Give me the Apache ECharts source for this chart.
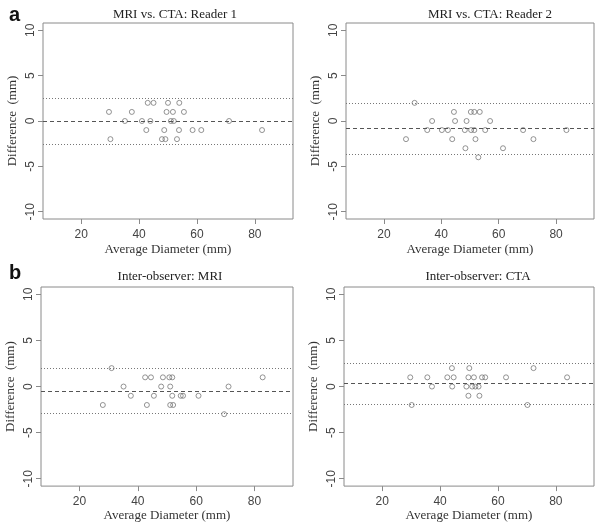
<!DOCTYPE html>
<html><head><meta charset="utf-8">
<script src="https://cdn.jsdelivr.net/npm/echarts@6/dist/echarts.min.js"></script>
<style>html,body{margin:0;padding:0;background:#fff}#c{width:600px;height:523px}</style>
</head><body><div id="c"></div>
<script>
// Panel titles
const titles = ['MRI vs. CTA: Reader 1', 'MRI vs. CTA: Reader 2', 'Inter-observer: MRI', 'Inter-observer: CTA'];
const xTicks = [20, 40, 60, 80];
const yTicks = [-10, -5, 0, 5, 10];

// a1: MRI vs CTA Reader 1
const a1x = [29.6, 30.1, 35.1, 37.5, 41.0, 42.5, 43.0, 43.9, 45.0, 47.9, 48.7, 49.1, 49.5, 50.0, 51.0, 51.7, 52.0, 53.1, 53.8, 53.9, 55.5, 58.5, 61.5, 71.1, 82.5];
const a1y = [1, -2, 0, 1, 0, -1, 2, 0, 2, -2, -1, -2, 1, 2, 0, 1, 0, -2, -1, 2, 1, -1, -1, 0, -1];
const a1lines = [0, 2.48, -2.56];

// a2: MRI vs CTA Reader 2
const a2x = [27.7, 30.7, 35.1, 36.8, 40.2, 42.3, 43.8, 44.4, 44.8, 48.2, 48.4, 48.8, 50.3, 50.4, 51.5, 51.5, 51.9, 52.9, 53.4, 55.3, 57.0, 61.5, 68.5, 72.1, 83.6];
const a2y = [-2, 2, -1, 0, -1, -1, -2, 1, 0, -1, -3, 0, 1, -1, 1, -1, -2, -4, 1, -1, 0, -3, -1, -2, -1];
const a2lines = [-0.84, 1.93, -3.61];

// b1: Inter-observer MRI
const b1x = [28.0, 31.0, 35.1, 37.6, 42.5, 43.1, 44.5, 45.5, 48.0, 48.6, 50.8, 51.1, 51.1, 51.8, 51.8, 52.1, 54.7, 55.5, 60.8, 69.6, 71.1, 82.8];
const b1y = [-2, 2, 0, -1, 1, -2, 1, -1, 0, 1, 1, 0, -2, 1, -1, -2, -1, -1, -1, -3, 0, 1];
const b1lines = [-0.46, 1.97, -2.89];

// b2: Inter-observer CTA
const b2x = [29.7, 30.2, 35.6, 37.2, 42.5, 44.1, 44.2, 44.7, 49.1, 49.8, 49.8, 50.1, 51.1, 51.7, 52.2, 53.3, 53.6, 54.5, 55.6, 62.8, 70.2, 72.3, 83.9];
const b2y = [1, -2, 1, 0, 1, 2, 0, 1, 0, 1, -1, 2, 0, 1, 0, 0, -1, 1, 1, 1, -2, 2, 1];
const b2lines = [0.39, 2.53, -1.93];

const panels = [[a1x, a1y, a1lines], [a2x, a2y, a2lines], [b1x, b1y, b1lines], [b2x, b2y, b2lines]];
const grids = [
  {left: 43, top: 23, width: 250, height: 196},
  {left: 346, top: 23, width: 248, height: 196},
  {left: 41, top: 287, width: 252, height: 202},
  {left: 344, top: 287, width: 250, height: 202}
];
const titlePos = [[175, 8], [490, 8], [170, 270], [478, 270]];
const xNameGap = [24, 24, 15, 15];

const serif = '"Liberation Serif","DejaVu Serif",serif';
const sans = '"Liberation Sans",Arial,sans-serif';

const option = {
  animation: false,
  backgroundColor: '#fff',
  title: titles.map((t, i) => ({
    text: t, left: titlePos[i][0], top: titlePos[i][1], textAlign: 'center', padding: 0,
    textStyle: {fontFamily: serif, fontWeight: 'normal', fontSize: 13, color: '#222'}
  })).concat([
    {text: 'a', left: 4, top: 0, textStyle: {fontFamily: sans, fontWeight: 'bold', fontSize: 20, color: '#111'}},
    {text: 'b', left: 4, top: 258, textStyle: {fontFamily: sans, fontWeight: 'bold', fontSize: 20, color: '#111'}}
  ]),
  grid: grids.map(g => Object.assign({show: true, borderColor: '#8a8a8a', borderWidth: 1, backgroundColor: 'transparent'}, g)),
  xAxis: grids.map((g, i) => ({
    gridIndex: i, type: 'value', min: 6.8, max: 93.2, position: 'bottom',
    name: 'Average Diameter (mm)', nameLocation: 'middle', nameGap: xNameGap[i],
    nameTextStyle: {fontFamily: serif, fontSize: 13, color: '#333'},
    axisLine: {show: false, onZero: false}, splitLine: {show: false},
    axisTick: {show: true, length: 5, lineStyle: {color: '#8a8a8a'}, customValues: xTicks},
    axisLabel: {fontFamily: sans, fontSize: 12, color: '#444', margin: 10, customValues: xTicks}
  })),
  yAxis: grids.map((g, i) => ({
    gridIndex: i, type: 'value', min: -10.8, max: 10.8, position: 'left',
    name: 'Difference  (mm)', nameLocation: 'middle', nameGap: 24,
    nameTextStyle: {fontFamily: serif, fontSize: 13, color: '#333'},
    axisLine: {show: false, onZero: false}, splitLine: {show: false},
    axisTick: {show: true, length: 5, lineStyle: {color: '#8a8a8a'}, customValues: yTicks},
    axisLabel: {fontFamily: sans, fontSize: 12, color: '#444', rotate: 90, margin: 12, customValues: yTicks, verticalAlign: 'middle', align: 'center'}
  })),
  series: panels.map((p, i) => ({
    type: 'scatter', xAxisIndex: i, yAxisIndex: i,
    data: p[0].map((x, k) => [x, p[1][k]]),
    symbol: 'circle', symbolSize: 5,
    itemStyle: {color: 'rgba(255,255,255,0)', borderColor: '#6a6a6a', borderWidth: 0.9},
    markLine: {
      silent: true, symbol: 'none', label: {show: false},
      data: [
        {yAxis: p[2][0], lineStyle: {type: [4, 3], color: '#555', width: 1}},
        {yAxis: p[2][1], lineStyle: {type: [1, 2], color: '#777', width: 1}},
        {yAxis: p[2][2], lineStyle: {type: [1, 2], color: '#777', width: 1}}
      ]
    }
  }))
};
const chart = echarts.init(document.getElementById('c'), null, {renderer: 'canvas'});
chart.setOption(option);
</script></body></html>
